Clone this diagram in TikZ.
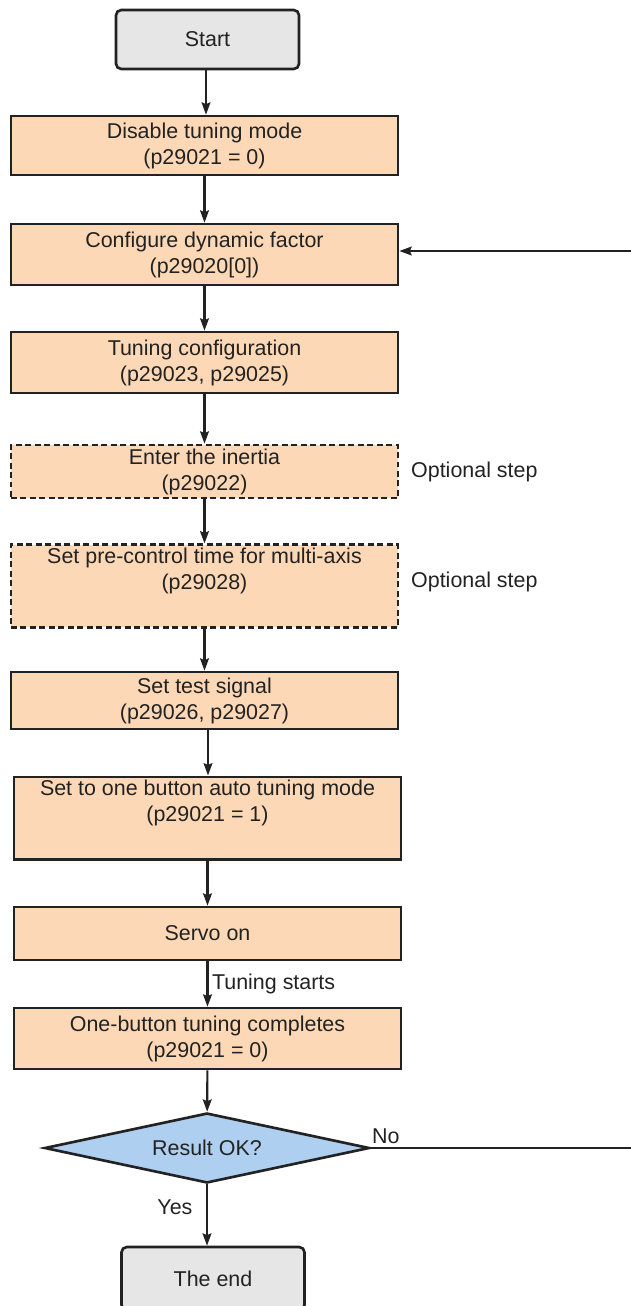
\documentclass[tikz,border=0pt]{standalone}
\usepackage{fontspec}
\setmainfont{Liberation Sans}
\usetikzlibrary{arrows.meta, positioning, shapes.geometric}
\definecolor{c1}{HTML}{222222}
\definecolor{peach}{HTML}{FCD8B6}
\definecolor{greybox}{HTML}{E6E6E6}
\definecolor{skyblue}{HTML}{AECFEF}

\begin{document}
\begin{tikzpicture}[
    every node/.style={font=\fontsize{12.2}{14.8}\selectfont, text=c1},
    lab/.style={font=\fontsize{12.2}{14.8}\selectfont, text=c1, inner sep=2pt},
    term/.style={rectangle, rounded corners=3pt, draw=c1, fill=greybox,
                 line width=1.5pt, minimum width=3.66cm, minimum height=1.18cm},
    stepbox/.style={rectangle, draw=c1, fill=peach, line width=1.5pt,
                    minimum width=7.74cm, align=center, inner sep=2pt},
    optbox/.style={stepbox, dash pattern=on 3.4pt off 2pt},
    decide/.style={diamond, aspect=4.64, draw=c1, fill=skyblue, line width=1.5pt,
                   minimum width=6.5cm, minimum height=1.4cm, inner sep=0pt},
    arr/.style={-{Stealth[length=7pt, width=5pt, inset=1pt]}, line width=1.2pt, color=c1},
]

\clip (0, 0) rectangle (12.62, -26.12);

% ================================================================ steps
\node[term] (start) at (4.15, -0.79) {Start};
\node[stepbox, minimum height=1.18cm] (dis) at (4.09, -2.91)
    {Disable tuning mode\\(p29021 = 0)};
\node[stepbox, minimum height=1.22cm] (dyn) at (4.09, -5.09)
    {Configure dynamic factor\\(p29020[0])};
\node[stepbox, minimum height=1.22cm] (cfg) at (4.09, -7.25)
    {Tuning configuration\\(p29023, p29025)};
\node[optbox, minimum height=1.06cm] (iner) at (4.09, -9.43)
    {Enter the inertia\\(p29022)};
\node[optbox, minimum height=1.64cm] (pre) at (4.09, -11.72)
    {Set pre-control time for multi-axis\\(p29028)\\\strut};
\node[stepbox, minimum height=1.14cm] (sig) at (4.09, -14.01)
    {Set test signal\\(p29026, p29027)};
\node[stepbox, minimum height=1.56cm] (one) at (4.15, -16.36)
    {Set to one button auto tuning mode\\(p29021 = 1)\\\strut};
\node[stepbox, minimum height=1.06cm] (servo) at (4.15, -18.67) {Servo on};
\node[stepbox, minimum height=1.22cm] (done) at (4.15, -20.77)
    {One-button tuning completes\\(p29021 = 0)};
\node[decide] (ok) at (4.14, -22.96) {Result OK?};
\node[term, minimum height=1.26cm] (fin) at (4.26, -25.57) {The end};

\node[lab, right=0.16cm of iner] (opt1) {Optional step};
\node[lab, right=0.16cm of pre, yshift=0.08cm] (opt2) {Optional step};

% ================================================================ flow
\draw[arr] (start.south -| 4.12, 0) -- (dis.north -| 4.12, 0);
\draw[arr] (dis) -- (dyn);
\draw[arr] (dyn) -- (cfg);
\draw[arr] (cfg) -- (iner);
\draw[arr] (iner) -- (pre);
\draw[arr] (pre) -- (sig);
\draw[arr] (sig.south -| 4.16, 0) -- (one.north -| 4.16, 0);
\draw[arr] (one) -- (servo);
\draw[arr] (servo) -- node[lab, anchor=west] (tst) {Tuning starts} (done);
\draw[arr] (done) -- (ok);
\draw[arr] (ok.south) -- node[lab, anchor=east, pos=0.37, xshift=-0.2cm] (yes) {Yes} (ok.south |- fin.north);

% loop back, runs out of the frame on the right
\coordinate (back) at (13.4, -5.02);
\draw[arr] (ok.east) -- node[lab, anchor=south, pos=0.05] (no) {No}
    (ok.east -| back) -- (back) -- (back -| dyn.east);

\end{tikzpicture}
\end{document}
